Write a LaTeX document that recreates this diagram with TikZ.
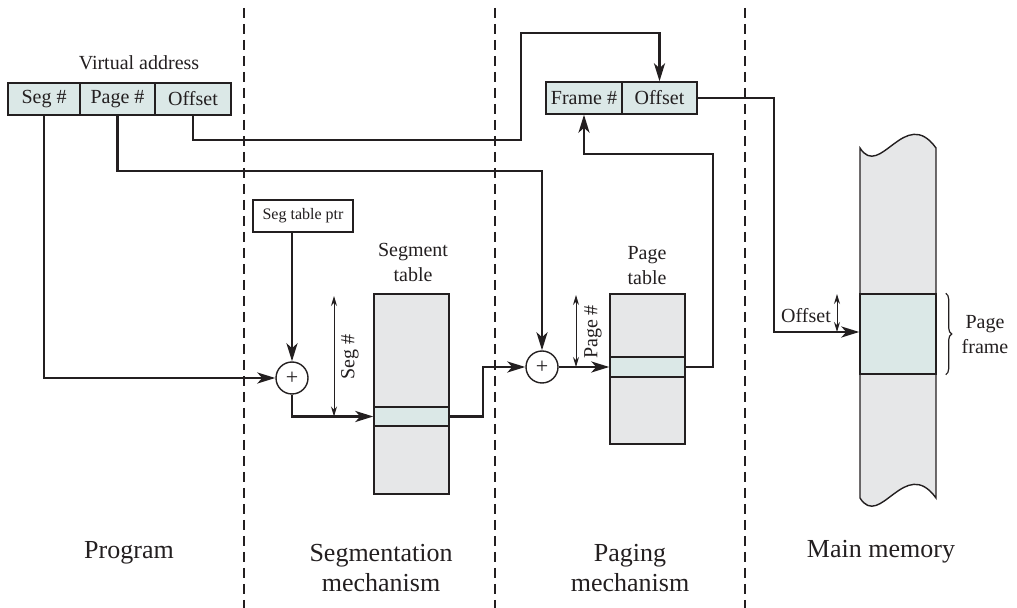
\documentclass[tikz,border=0pt]{standalone}
\usepackage{fontspec}
\setmainfont{Liberation Serif}
\usetikzlibrary{arrows.meta,decorations.pathreplacing,calc}
\definecolor{tealzero}{RGB}{219,232,231}
\definecolor{grayzero}{RGB}{230,231,232}
\definecolor{ink}{RGB}{35,31,32}
\begin{document}
\begin{tikzpicture}[x=0.5pt,y=-0.5pt,
  cell/.style={draw=ink, fill=tealzero, line width=0.7pt, minimum height=16pt, inner sep=0pt, text=ink, font=\fontsize{10}{12}\selectfont},
  tbl/.style={draw=ink, fill=grayzero, line width=0.7pt, inner sep=0pt},
  rowbox/.style={draw=ink, fill=tealzero, line width=0.7pt, inner sep=0pt},
  adder/.style={circle, draw=ink, fill=white, line width=0.7pt, minimum size=16pt, inner sep=0pt, text=ink, font=\fontsize{11}{12}\selectfont},
  conn/.style={draw=ink, line width=1.4pt, -{Stealth[length=9pt,width=5.5pt,inset=2.5pt]}},
  dim/.style={draw=ink, line width=0.5pt, {Stealth[length=5pt,width=3pt]}-{Stealth[length=5pt,width=3pt]}},
  sepline/.style={draw=ink, line width=1.2pt, dash pattern=on 5pt off 3pt},
  lbl/.style={font=\fontsize{10}{12.5}\selectfont, align=center, inner sep=0pt, text=ink},
  big/.style={font=\fontsize{13}{15}\selectfont, align=center, inner sep=0pt, text=ink}
]
\useasboundingbox (0,0) rectangle (1017,608);

% separators
\draw[sepline] (244,8) -- (244,608);
\draw[sepline] (495,8) -- (495,608);
\draw[sepline] (745,8) -- (745,608);

% virtual address
\node[lbl] (va) at (139,63) {Virtual address};
\node[cell, minimum width=36pt] (seg) at (44,99) {Seg \#};
\node[cell, minimum width=37.5pt] (page) at (117.5,99) {Page \#};
\node[cell, minimum width=38pt] (off) at (193,99) {Offset};

% real address
\node[cell, minimum width=38pt] (frame) at (584,98) {Frame \#};
\node[cell, minimum width=37.5pt] (off2) at (659.5,98) {Offset};

% segmentation
\node[draw=ink, line width=0.7pt, fill=white, minimum width=50pt, minimum height=16pt, inner sep=0pt, text=ink, font=\fontsize{8}{10}\selectfont] (ptr) at (303,216) {Seg table ptr};
\node[tbl, minimum width=37.5pt, minimum height=100pt] (segtab) at (411.5,394) {};
\node[rowbox, minimum width=37.5pt, minimum height=9.5pt] (segrow) at (411.5,416.5) {};
\node[lbl] (segtablbl) at (413,262) {Segment\\table};

% paging
\node[tbl, minimum width=37.5pt, minimum height=75pt] (pgtab) at (647.5,369) {};
\node[rowbox, minimum width=37.5pt, minimum height=10pt] (pgrow) at (647.5,367) {};
\node[lbl] (pgtablbl) at (647,266) {Page\\table};

% main memory
\path[draw=ink, fill=grayzero, line width=0.7pt] (860,148) .. controls (880,180) and (905,105) .. (936,148) -- (936,498) .. controls (905,455) and (880,530) .. (860,498) -- cycle;
\node[rowbox, minimum width=38pt, minimum height=40pt] (pframe) at (898,334) {};
\draw[ink, line width=0.6pt, decorate, decoration={brace, amplitude=3pt}] ($(pframe.north east)+(9,0)$) -- ($(pframe.south east)+(9,0)$);
\node[lbl] (pflbl) at (985,334.5) {Page\\frame};

% adders
\node[adder] (add1) at (292,378) {+};
\node[adder] (add2) at (542,367) {+};

% connectors
\draw[conn] (seg.south) |- (add1.west);
\draw[conn] (ptr.south -| add1) -- (add1.north);
\draw[conn] (add1.south) |- (segrow.west);
\coordinate (b1) at (483,416.5);
\draw[conn] (segrow.east) -- (b1) |- (add2.west);
\coordinate (p1) at (117.5,171);
\draw[conn] (page.south) -- (p1) -| (add2.north);
\draw[conn] (add2.east) -- (pgrow.west);
\coordinate (b2) at (713,154);
\draw[conn] (pgrow.east) -| (b2) -| (frame.south);
\coordinate (o1) at (193,140);
\coordinate (o2) at (521,33);
\draw[conn] (off.south) -- (o1) -| (o2) -| (off2.north);
\coordinate (o3) at (774,332);
\draw[conn] (off2.east) -| (o3) -- (o3 -| pframe.west);

% dimension arrows
\coordinate (sd1) at (334,296);
\draw[dim] (sd1) -- (sd1 |- segrow.center);
\node[lbl, rotate=90] (seglbl) at (350,357) {Seg \#};
\coordinate (pd1) at (576,295);
\draw[dim] (pd1) -- (pd1 |- add2.center);
\node[lbl, rotate=90] (pglbl) at (593,332) {Page \#};
\coordinate (od1) at (837,294);
\draw[dim] (od1) -- (od1 |- o3);
\node[lbl] (offlbl) at (806,316) {Offset};

% column labels
\node[big] (prog) at (129,553) {Program};
\node[big] (segm) at (381,568) {Segmentation\\mechanism};
\node[big] (pagm) at (630,568) {Paging\\mechanism};
\node[big] (mainm) at (881,552) {Main memory};
\end{tikzpicture}
\end{document}
